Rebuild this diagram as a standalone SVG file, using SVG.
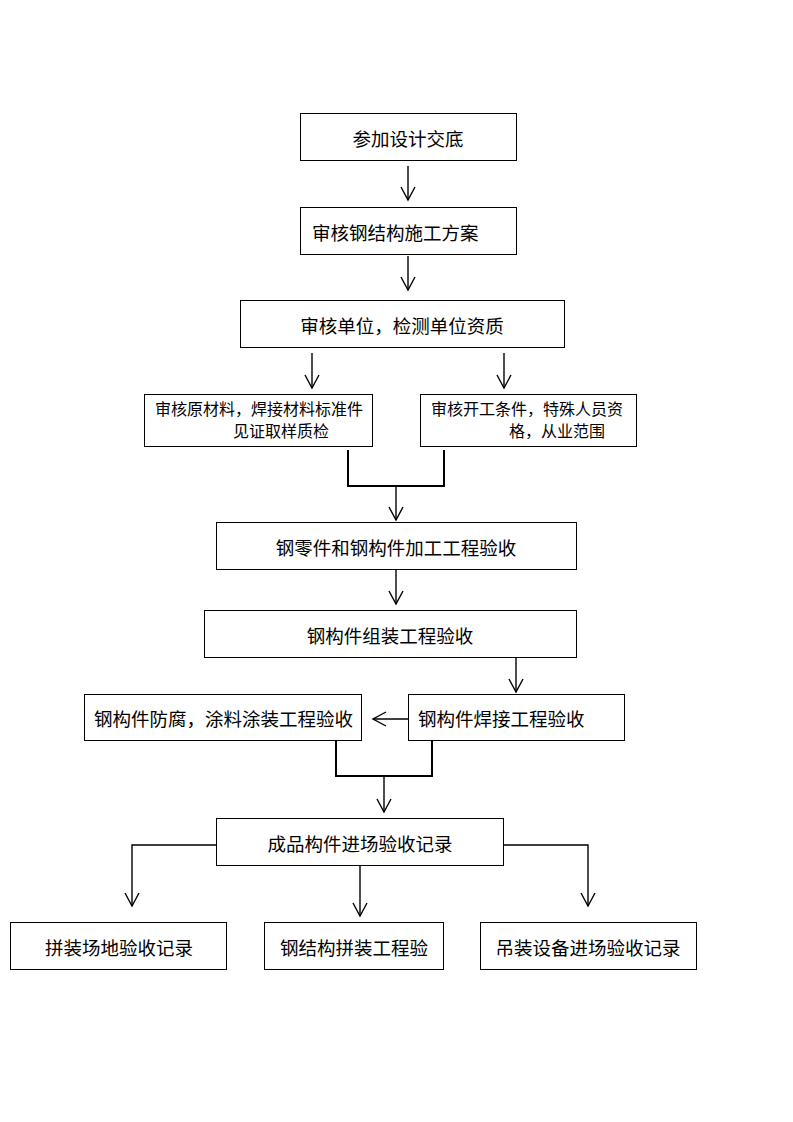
<svg xmlns="http://www.w3.org/2000/svg" width="793" height="1122" viewBox="0 0 793 1122">
<style>
.box{fill:#fff;stroke:#000;stroke-width:1}
.t{font-family:"Noto Sans CJK SC","Noto Sans CJK TC",sans-serif;font-size:18.5px;fill:#000}
.s{font-size:16px}
.c{fill:none;stroke:#000;stroke-width:1.4}
.m{fill:none;stroke:#000;stroke-width:2}
</style>
<defs>
<marker id="ah" markerUnits="userSpaceOnUse" markerWidth="20" markerHeight="20" refX="0" refY="0" orient="auto" overflow="visible">
<path d="M-13,-7 L0,0 L-13,7" fill="none" stroke="#000" stroke-width="1.4"/>
</marker>
</defs>
<rect width="793" height="1122" fill="#fff"/>
<g id="n1"><rect class="box" x="300.5" y="113.5" width="216" height="47"/><text class="t" x="408" y="146" text-anchor="middle">参加设计交底</text></g>
<g id="n2"><rect class="box" x="300.5" y="207.5" width="216" height="47"/><text class="t" x="312" y="240">审核钢结构施工方案</text></g>
<g id="n3"><rect class="box" x="240.5" y="300.5" width="324" height="47"/><text class="t" x="402" y="333" text-anchor="middle">审核单位，检测单位资质</text></g>
<g id="n4"><rect class="box" x="144.5" y="394.5" width="228" height="52"/><text class="t s" x="155" y="415">审核原材料，焊接材料标准件</text><text class="t s" x="233" y="437">见证取样质检</text></g>
<g id="n5"><rect class="box" x="420.5" y="394.5" width="216" height="52"/><text class="t s" x="431" y="415">审核开工条件，特殊人员资</text><text class="t s" x="509" y="437">格，从业范围</text></g>
<g id="n6"><rect class="box" x="216.5" y="522.5" width="360" height="47"/><text class="t" x="396" y="555" text-anchor="middle">钢零件和钢构件加工工程验收</text></g>
<g id="n7"><rect class="box" x="204.5" y="610.5" width="372" height="47"/><text class="t" x="390" y="643" text-anchor="middle">钢构件组装工程验收</text></g>
<g id="n8"><rect class="box" x="408.5" y="694.5" width="216" height="46"/><text class="t" x="418" y="726">钢构件焊接工程验收</text></g>
<g id="n9"><rect class="box" x="84.5" y="694.5" width="277" height="46"/><text class="t" x="94" y="726">钢构件防腐，涂料涂装工程验收</text></g>
<g id="n10"><rect class="box" x="216.5" y="818.5" width="287" height="47"/><text class="t" x="360" y="851" text-anchor="middle">成品构件进场验收记录</text></g>
<g id="n11"><rect class="box" x="10.5" y="922.5" width="216" height="47"/><text class="t" x="119" y="955" text-anchor="middle">拼装场地验收记录</text></g>
<g id="n12"><rect class="box" x="264.5" y="922.5" width="179" height="47"/><text class="t" x="354" y="955" text-anchor="middle">钢结构拼装工程验</text></g>
<g id="n13"><rect class="box" x="480.5" y="922.5" width="216" height="47"/><text class="t" x="588" y="955" text-anchor="middle">吊装设备进场验收记录</text></g>
<g id="connectors">
<path class="c" d="M408,166 V200" marker-end="url(#ah)"/>
<path class="c" d="M408,256 V290" marker-end="url(#ah)"/>
<path class="c" d="M312,353 V388" marker-end="url(#ah)"/>
<path class="c" d="M504,353 V388" marker-end="url(#ah)"/>
<path class="m" d="M348,450 V486 H444 V450"/>
<path class="c" d="M396,486 V520" marker-end="url(#ah)"/>
<path class="c" d="M396,570 V604" marker-end="url(#ah)"/>
<path class="c" d="M516,658 V692" marker-end="url(#ah)"/>
<path class="c" d="M408,719 H373" marker-end="url(#ah)"/>
<path class="m" d="M336,741 V776 H432 V741"/>
<path class="c" d="M384,776 V812" marker-end="url(#ah)"/>
<path class="c" d="M216,845 H132 V906" marker-end="url(#ah)"/>
<path class="c" d="M360,866 V916" marker-end="url(#ah)"/>
<path class="c" d="M504,845 H588 V906" marker-end="url(#ah)"/>
</g>
</svg>
